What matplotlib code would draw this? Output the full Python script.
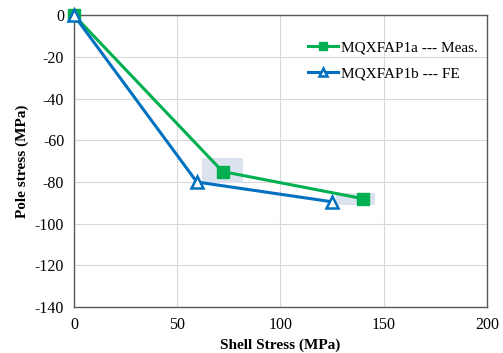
import matplotlib.pyplot as plt
from matplotlib.patches import Rectangle

plt.rcParams['font.family'] = ['Liberation Serif', 'DejaVu Serif']
plt.rcParams['axes.unicode_minus'] = False

# Measured (MQXFAP1a) and FE (MQXFAP1b) values
meas_shell = [0, 72, 140]
meas_pole = [0, -75, -88]
fe_shell = [0, 59.5, 125]
fe_pole = [0, -80, -89.5]

# shaded uncertainty boxes around measurements (x0, x1, y0, y1)
box_x0 = [62, 127]
box_x1 = [82, 146]
box_y0 = [-80.5, -91]
box_y1 = [-68.5, -85.5]

x_ticks = [0, 50, 100, 150, 200]
y_ticks = [0, -20, -40, -60, -80, -100, -120, -140]

fig, ax = plt.subplots(figsize=(5.03, 3.53), dpi=100)
fig.subplots_adjust(left=0.147, right=0.968, top=0.957, bottom=0.13)

for x0, x1, y0, y1 in zip(box_x0, box_x1, box_y0, box_y1):
    ax.add_patch(Rectangle((x0, y0), x1 - x0, y1 - y0, facecolor='#dce3ef',
                           edgecolor='none', zorder=1))

ax.plot(meas_shell, meas_pole, color='#00b050', lw=2.2, marker='s', ms=8,
        label='MQXFAP1a --- Meas.', zorder=3, clip_on=False)
ax.plot(fe_shell, fe_pole, color='#0070c0', lw=2.2, marker='^', ms=8,
        mfc='white', mew=1.8, label='MQXFAP1b --- FE', zorder=4, clip_on=False)

ax.set_xlim(0, 200)
ax.set_ylim(-140, 0)
ax.set_xticks(x_ticks)
ax.set_yticks(y_ticks)
ax.tick_params(length=0, labelsize=11.5, pad=7)
ax.grid(True, color='#d9d9d9', lw=0.8)
ax.set_axisbelow(True)
for s in ax.spines.values():
    s.set_color('#595959')
    s.set_linewidth(1.0)

ax.set_xlabel('Shell Stress (MPa)', fontweight='bold', fontsize=11)
ax.set_ylabel('Pole stress (MPa)', fontweight='bold', fontsize=11)

ax.legend(loc='upper right', bbox_to_anchor=(1.01, 0.96), frameon=False,
          fontsize=11, handlelength=2.0, handletextpad=0.15, labelspacing=0.8,
          markerscale=0.75)

plt.savefig('out.png', dpi=100)
